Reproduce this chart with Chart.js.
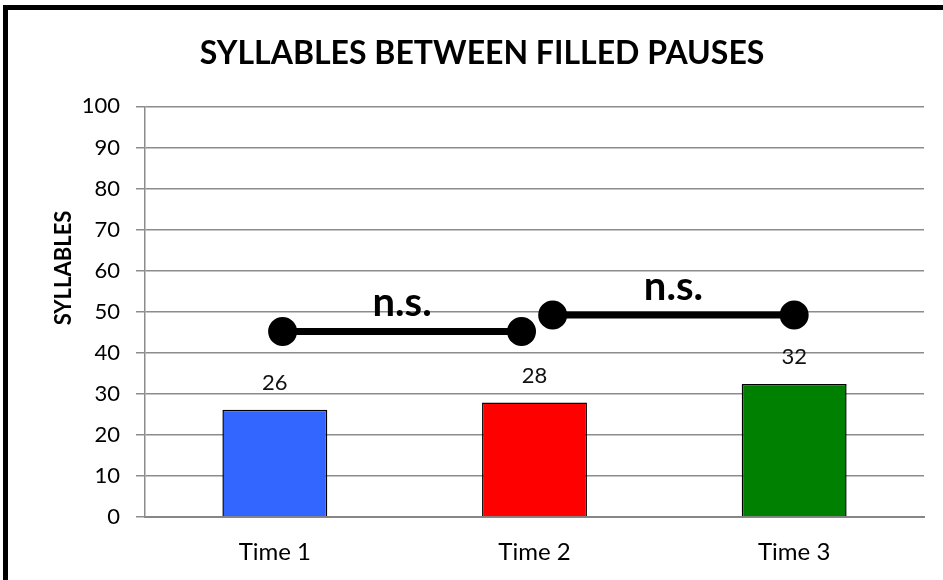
<!DOCTYPE html>
<html>
<head>
<meta charset="utf-8">
<script src="https://cdn.jsdelivr.net/npm/chart.js@4.4.1/dist/chart.umd.min.js"></script>
<style>
    html, body { margin: 0; padding: 0; background: #fff; }
    .wrap { position: relative; width: 943px; height: 580px; overflow: hidden; background: #fff; }
    .frame { position: absolute; left: 3px; top: 5px; width: 1000px; height: 700px; border: 5px solid #000; }
    .chart-container { position: absolute; left: 0; top: 0; width: 943px; height: 580px; }
</style>
</head>
<body>
<div class="wrap">
    <div class="frame"></div>
    <div class="chart-container"><canvas id="chart"></canvas></div>
</div>
<script>
// data
const categories = ['Time 1', 'Time 2', 'Time 3'];
const syllables = [26.1, 27.9, 32.4];
const valueLabels = ['26', '28', '32'];
const barColors = ['#3366ff', '#ff0000', '#008000'];
const yTicks = [0, 10, 20, 30, 40, 50, 60, 70, 80, 90, 100];

// significance brackets (x in category units, y in syllables)
const sig1X = [0.03, 0.95];
const sig1Y = [45.2, 45.2];
const sig2X = [1.07, 2.0];
const sig2Y = [49.2, 49.2];
const sigLabels = ['n.s.', 'n.s.'];

const FONT = 'Lato, "Open Sans", sans-serif';

const toPoints = (xs, ys) => xs.map((x, i) => ({ x: x, y: ys[i] }));

const labelPlugin = {
    id: 'labelPlugin',
    afterDatasetsDraw(chart) {
        const ctx = chart.ctx;
        ctx.save();
        ctx.textAlign = 'center';
        ctx.textBaseline = 'middle';

        // value labels above the bars
        const barMeta = chart.getDatasetMeta(2);
        ctx.font = '22px ' + FONT;
        ctx.fillStyle = '#111';
        barMeta.data.forEach((bar, i) => {
            ctx.fillText(valueLabels[i], bar.x, bar.y - 27);
        });

        // n.s. over each bracket
        ctx.font = 'bold 40px ' + FONT;
        ctx.fillStyle = '#000';
        [0, 1].forEach(d => {
            const pts = chart.getDatasetMeta(d).data;
            const mx = (pts[0].x + pts[1].x) / 2;
            ctx.fillText(sigLabels[d], mx, pts[0].y - 28);
        });

        // y axis title, sits a bit above the middle as in the original
        ctx.font = 'bold 22px ' + FONT;
        ctx.translate(64, 268);
        ctx.rotate(-Math.PI / 2);
        ctx.fillText('SYLLABLES', 0, 0);
        ctx.restore();
    }
};

new Chart(document.getElementById('chart'), {
    type: 'bar',
    data: {
        labels: categories,
        datasets: [
            {
                type: 'scatter',
                data: toPoints(sig1X, sig1Y),
                xAxisID: 'x2',
                showLine: true,
                borderColor: '#000',
                backgroundColor: '#000',
                borderWidth: 7,
                pointRadius: 11,
                order: 1
            },
            {
                type: 'scatter',
                data: toPoints(sig2X, sig2Y),
                xAxisID: 'x2',
                showLine: true,
                borderColor: '#000',
                backgroundColor: '#000',
                borderWidth: 7,
                pointRadius: 11,
                order: 1
            },
            {
                label: 'Syllables',
                data: syllables,
                backgroundColor: barColors,
                borderColor: '#000',
                borderWidth: 1.5,
                grouped: false,
                categoryPercentage: 1,
                barPercentage: 0.404,
                order: 2
            }
        ]
    },
    options: {
        responsive: true,
        maintainAspectRatio: false,
        animation: false,
        layout: { padding: { left: 40, right: 19, top: 0, bottom: 15 } },
        plugins: {
            legend: { display: false },
            tooltip: { enabled: false },
            title: {
                display: true,
                text: 'SYLLABLES BETWEEN FILLED PAUSES',
                color: '#000',
                font: { family: FONT, size: 32, weight: 'bold' },
                padding: { top: 34, bottom: 34 }
            }
        },
        scales: {
            x: {
                type: 'category',
                afterFit: scale => { scale.height = 48; },
                grid: { display: false, drawTicks: false },
                border: { display: true, color: '#868686', width: 2 },
                ticks: { color: '#000', font: { family: FONT, size: 24 }, padding: 21 }
            },
            x2: {
                type: 'linear',
                min: -0.5,
                max: 2.5,
                offset: false,
                display: false
            },
            y: {
                min: 0,
                max: 100,
                afterBuildTicks: scale => { scale.ticks = yTicks.map(v => ({ value: v })); },
                afterFit: scale => { scale.width = 105; },
                grid: { color: '#8c8c8c', lineWidth: 1.5, tickLength: 9 },
                border: { color: '#8c8c8c', width: 1.5 },
                ticks: { color: '#000', font: { family: FONT, size: 22 }, padding: 16 }
            }
        }
    },
    plugins: [labelPlugin]
});
</script>
</body>
</html>
